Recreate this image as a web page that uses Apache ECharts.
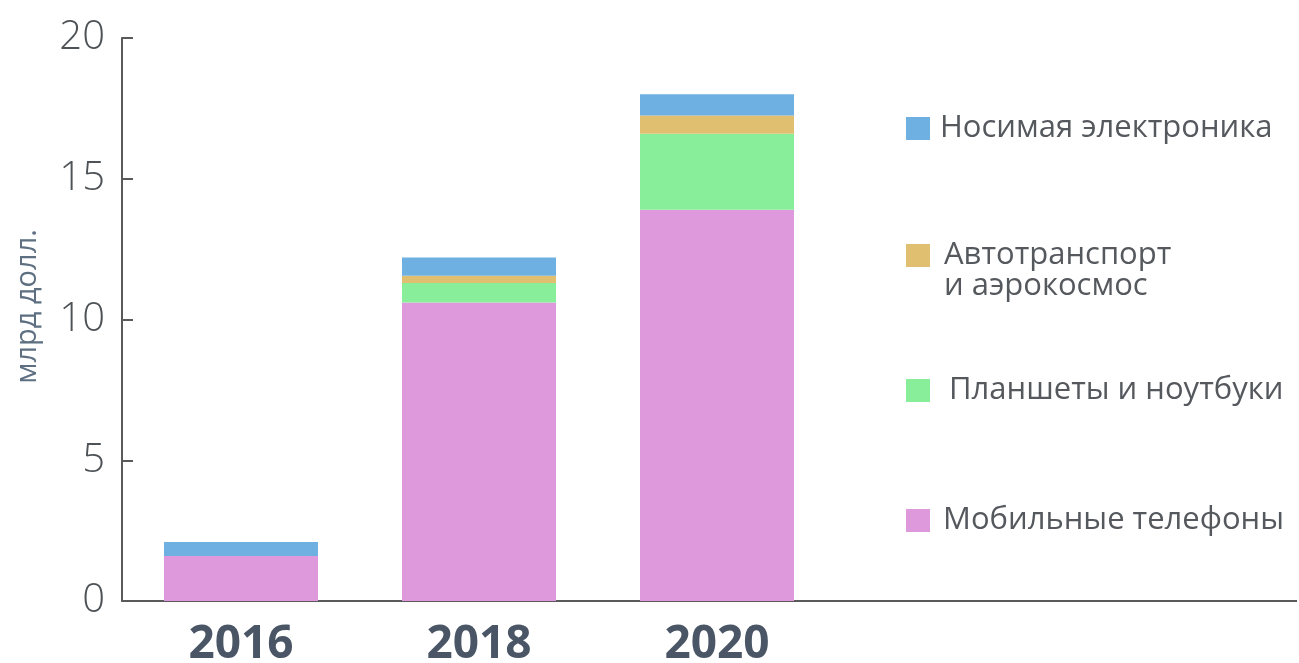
<!DOCTYPE html>
<html>
<head>
<meta charset="utf-8">
<script src="https://cdn.jsdelivr.net/npm/echarts@6/dist/echarts.min.js"></script>
<style>
  html, body { margin: 0; padding: 0; background: #ffffff; }
  #chart { width: 1299px; height: 663px; }
</style>
</head>
<body>
<div id="chart"></div>
<script>
// Years on the category axis
const years = ['2016', '2018', '2020'];

// Segment values, billions of dollars (stacked bottom to top)
const mobilePhones = [1.6, 10.6, 13.9];
const tabletsLaptops = [0, 0.7, 2.7];
const autoAerospace = [0, 0.25, 0.65];
const wearables = [0.5, 0.65, 0.75];

// Value axis ticks
const yTicks = [0, 5, 10, 15, 20];

const seriesNames = {
  wear: 'Носимая электроника',
  auto: 'Автотранспорт\nи аэрокосмос',
  tab: 'Планшеты и ноутбуки',
  mob: 'Мобильные телефоны'
};

const colors = {
  wear: '#6fb0e2',
  auto: '#e0c070',
  tab: '#88ee9a',
  mob: '#dd99dc'
};

const chart = echarts.init(document.getElementById('chart'), null, { renderer: 'canvas' });

const gridLeft = 122, gridTop = 38, gridBottom = 62, bandWidth = 238;
const gridRight = 1299 - gridLeft - bandWidth * years.length;
const axisY = 663 - gridBottom;

const legendFont = { fontFamily: 'Open Sans', fontSize: 31, color: '#55595e', lineHeight: 31 };

function legendAt(name, top, padLeft, formatter) {
  const textStyle = Object.assign({}, legendFont, { padding: [0, 0, 0, padLeft] });
  if (formatter) {
    // first line sits level with the swatch, second line hangs below it
    textStyle.rich = {
      s: { fontSize: 31, lineHeight: 31 },
      t: Object.assign({}, legendFont)
    };
  }
  return {
    show: true,
    orient: 'vertical',
    left: 901,
    top: top,
    itemWidth: 24,
    itemHeight: 23,
    icon: 'rect',
    selectedMode: false,
    data: [name],
    formatter: formatter || '{name}',
    textStyle: textStyle
  };
}

function barSeries(key, data) {
  return {
    name: seriesNames[key],
    type: 'bar',
    stack: 'total',
    barWidth: 154,
    data: data,
    itemStyle: { color: colors[key] },
    emphasis: { disabled: true }
  };
}

chart.setOption({
  animation: false,
  backgroundColor: '#ffffff',
  grid: {
    left: gridLeft, right: gridRight, top: gridTop, bottom: gridBottom,
    containLabel: false,
    outerBoundsMode: 'none'
  },
  legend: [
    legendAt(seriesNames.wear, 108, 5),
    legendAt(seriesNames.auto, 204, 9, function (name) {
      return '{s| }\n' + name.split('\n').map(function (l) { return '{t|' + l + '}'; }).join('\n');
    }),
    legendAt(seriesNames.tab, 370, 14),
    legendAt(seriesNames.mob, 500, 8)
  ],
  xAxis: {
    type: 'category',
    data: years,
    boundaryGap: true,
    axisLine: { show: true, lineStyle: { color: '#5a5a5a', width: 2 } },
    axisTick: { show: false },
    axisLabel: {
      margin: 21,
      fontFamily: 'Open Sans',
      fontWeight: 'bold',
      fontSize: 46,
      color: '#4a5666'
    }
  },
  yAxis: {
    type: 'value',
    min: yTicks[0],
    max: yTicks[yTicks.length - 1],
    interval: yTicks[1] - yTicks[0],
    name: 'млрд долл.',
    nameLocation: 'middle',
    nameRotate: 90,
    nameGap: 80,
    nameTextStyle: {
      fontFamily: 'Open Sans',
      fontSize: 29,
      color: '#5d6f80',
      padding: [0, 0, 0, 26]
    },
    axisLine: { show: true, lineStyle: { color: '#5a5a5a', width: 2 } },
    axisTick: { show: true, inside: true, length: 11, lineStyle: { color: '#5a5a5a', width: 2 } },
    splitLine: { show: false },
    axisLabel: {
      margin: 17,
      fontFamily: 'Open Sans',
      fontWeight: 300,
      fontSize: 40,
      color: '#4d5257'
    }
  },
  // Continuation of the baseline across the legend area
  graphic: [{
    type: 'line',
    shape: { x1: gridLeft + bandWidth * years.length, y1: axisY, x2: 1297, y2: axisY },
    style: { stroke: '#5a5a5a', lineWidth: 2 },
    silent: true,
    z: 5
  }],
  series: [
    barSeries('mob', mobilePhones),
    barSeries('tab', tabletsLaptops),
    barSeries('auto', autoAerospace),
    barSeries('wear', wearables)
  ]
});
</script>
</body>
</html>
